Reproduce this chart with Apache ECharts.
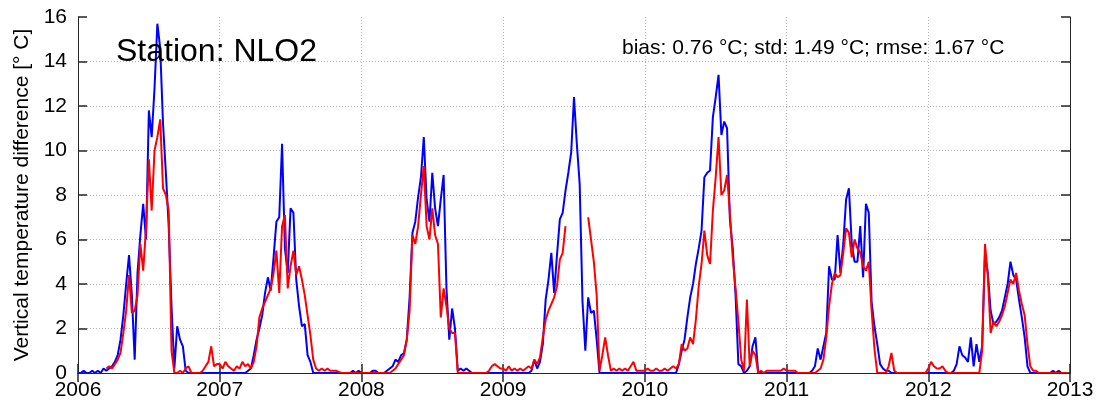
<!DOCTYPE html>
<html><head><meta charset="utf-8">
<script src="https://cdn.jsdelivr.net/npm/echarts@6/dist/echarts.min.js"></script>
<style>html,body{margin:0;padding:0;background:#fff}#c{width:1098px;height:408px}</style>
</head><body><div id="c"></div>
<script>
// ---- data (one value every 0.02 year) ----
const years = [2006, 2007, 2008, 2009, 2010, 2011, 2012];
const stepYears = 0.02;
const xTickLabels = ['2006','2007','2008','2009','2010','2011','2012','2013'];
const yTickLabels = ['0','2','4','6','8','10','12','14','16'];
const stationLabel = 'Station: NLO2';
const statsLabel = 'bias: 0.76 °C; std: 1.49 °C; rmse: 1.67 °C';
const yAxisTitle = 'Vertical temperature difference [° C]';

const blue2006 = [0,0,0.1,0,0,0.1,0,0.1,0,0.2, 0.1,0.2,0.3,0.5,0.8,1.5,2.6,4.0,5.3,3.5, 0.6,4.5,6.2,7.6,6.0,11.8,10.6,12.8,15.7,14.6, 11.2,9.0,6.6,3.0,0.2,2.1,1.5,1.2,0.1,0, 0,0,0,0,0,0,0,0,0,0];
const red2006 = [null,null,null,null,null,null,null,null,null,null, 0.2,0.3,0.2,0.4,0.6,0.9,1.8,2.8,4.4,2.7, 2.8,3.5,5.8,4.6,6.5,9.6,7.3,10.0,10.6,11.4, 8.3,8.0,7.3,1.0,0,0,0.1,0,0.2,0.3, 0,0,0,0,0.1,0.3,0.5,1.2,0.3,0.4];
const blue2007 = [0,0,0,0,0,0,0,0,0,0, 0.1,0.2,0.8,1.5,2.0,2.6,3.6,4.3,3.7,5.2, 6.8,7.0,10.3,5.6,4.5,7.4,7.2,4.2,3.0,2.1, 2.2,0.8,0.5,0,0,0,0,0,0,0, 0,0,0,0,0,0,0,0.1,0,0.1];
const red2007 = [0.4,0.2,0.5,0.3,0.2,0.1,0.3,0.2,0.5,0.3, 0.4,0.2,0.5,1.2,2.5,2.9,3.2,3.5,3.8,4.5, 5.5,3.6,6.6,7.1,3.8,4.8,5.5,4.4,4.8,4.2, 3.5,2.6,1.7,0.6,0.2,0.1,0.2,0.1,0.2,0.1, 0.1,0.1,0.05,0,0,0,0,0,0,0];
const blue2008 = [0,0,0,0,0.1,0.1,0,0,0,0.1, 0.2,0.3,0.6,0.5,0.8,0.9,1.5,3.4,6.3,6.8, 7.9,8.8,10.6,7.8,6.8,9.0,7.4,6.6,7.8,8.9, 3.8,1.5,2.9,2.0,0.1,0.2,0.1,0.2,0.1,0, 0,0,0,0,0,0,0,0,0,0];
const red2008 = [0,0,0,0,0,0,0,0,0,0, 0,0.1,0.2,0.4,0.6,0.8,1.5,2.8,6.2,5.8, 6.6,8.0,9.3,6.6,6.0,7.4,6.2,5.8,2.5,3.8, 3.0,2.0,1.8,1.8,0,0,0,0,0,0, 0,0,0,0,0,0.1,0.3,0.4,0.3,0.2];
const blue2009 = [0,0,0,0,0,0,0,0,0,0, 0.1,0.6,0.2,0.5,1.3,3.3,4.2,5.4,3.6,5.3, 6.9,7.2,8.2,9.0,9.9,12.4,10.3,8.5,3.2,1.0, 3.4,2.7,2.8,1.5,0,0,0,0,0,0, 0,0,0,0,0,0,0,0,0,0];
const red2009 = [0.2,0.1,0.3,0.1,0.2,0.1,0.2,0.1,0.2,0.3, 0.2,0.6,0.4,0.7,1.6,2.4,2.8,3.1,3.4,3.9, 5.1,5.4,6.6,null,null,null,null,null,null,null, 7.0,6.0,5.0,3.5,0.1,0.8,1.6,0.8,0.1,0.2, 0.1,0.2,0.1,0.2,0.1,0.3,0.5,0.1,0.1,0.1];
const blue2010 = [0,0,0,0,0,0,0,0,0,0, 0,0,0.4,1.0,1.5,2.5,3.4,4.0,4.9,5.6, 6.4,8.8,9.0,9.1,11.5,12.4,13.4,10.7,11.3,11.0, 6.9,5.6,3.5,0.4,0.3,0,0.1,0.3,1.2,1.6, 0,0,0,0,0,0,0,0,0,0];
const red2010 = [0.1,0.2,0.1,0.1,0.2,0.1,0.1,0.2,0.1,0.2, 0.3,0.2,0.4,1.3,1.0,1.1,1.6,1.3,2.4,3.9, 4.9,6.4,5.3,4.9,7.3,8.8,10.6,8.0,8.2,8.9, 7.2,5.2,3.8,2.3,0.6,0.1,3.3,0.3,1.0,0.8, 0,0.1,0,0.1,0.1,0.1,0.1,0.1,0.1,0.2];
const blue2011 = [0,0,0,0,0,0,0,0,0,0.1, 0.3,1.1,0.6,1.2,1.8,4.8,4.2,4.2,6.2,4.5, 5.8,7.8,8.3,5.8,5.0,5.0,6.6,4.3,7.6,7.2, 3.2,2.1,1.3,0.4,0.2,0.1,0.1,0,0,0, 0,0,0,0,0,0,0,0,0,0];
const red2011 = [0.1,0.1,0.1,0.1,0,0,0,0,0,0, 0,0.1,0.2,0.6,1.6,3.0,4.0,4.5,4.3,4.4, 5.4,6.5,6.3,5.2,6.0,5.6,5.4,4.8,4.6,5.0, 2.8,1.1,0,0,0,0,0.3,0.9,0.1,0, 0,0,0,0,0,0,0,0,0,0];
const blue2012 = [0,0,0,0,0,0,0,0,0,0.1, 0.4,1.2,0.8,0.7,0.5,1.6,0.3,1.3,0.5,1.2, 5.3,4.5,2.8,2.2,2.3,2.5,2.8,3.4,4.0,5.0, 4.4,4.2,3.3,2.5,1.6,0.3,0,0,0,0, 0,0,0,0,0.1,0,0.1,0,0,0];
const red2012 = [0.2,0.5,0.3,0.2,0.2,0.3,0.1,0,0,0, 0,0,0,0,0,0,0,0,0,1.0, 5.8,4.4,1.8,2.3,2.1,2.3,2.6,3.0,3.6,4.2, 4.0,4.5,3.7,3.1,2.6,1.3,0.3,0.1,0.1,0, 0,0,0,0,0,0,0,0,0,0];

const blueYears = [blue2006, blue2007, blue2008, blue2009, blue2010, blue2011, blue2012];
const redYears = [red2006, red2007, red2008, red2009, red2010, red2011, red2012];

function build(perYear) {
  const out = [];
  perYear.forEach((arr, k) => arr.forEach((v, i) => out.push([years[k] + i * stepYears, v])));
  return out;
}

const FONT = '"Liberation Sans", Arial, sans-serif';
const AX = '#262626';
const gridLine = { show: true, showMinLine: false, showMaxLine: false, lineStyle: { color: '#b4b4b4', type: [1, 2], width: 1 } };

const chart = echarts.init(document.getElementById('c'), null, { renderer: 'canvas' });
chart.setOption({
  animation: false,
  backgroundColor: '#ffffff',
  grid: { left: 78, right: 28, top: 17, bottom: 35, containLabel: false },
  xAxis: [
    { type: 'value', min: 2006, max: 2013, interval: 1, position: 'bottom',
      axisLine: { show: true, lineStyle: { color: AX, width: 1 } },
      axisTick: { show: true, inside: true, length: 9, lineStyle: { color: AX, width: 1.5 } },
      axisLabel: { color: '#000', fontSize: 21, fontFamily: FONT, margin: 7,
        formatter: v => xTickLabels[Math.round(v - 2006)] },
      splitLine: gridLine },
    { type: 'value', min: 2006, max: 2013, interval: 1, position: 'top',
      axisLine: { show: true, lineStyle: { color: AX, width: 1 } },
      axisTick: { show: true, inside: true, length: 9, lineStyle: { color: AX, width: 1.5 } },
      axisLabel: { show: false }, splitLine: { show: false } },
    { type: 'value', min: 2006, max: 2013, position: 'bottom', z: 10,
      axisLine: { show: true, lineStyle: { color: AX, width: 1 } },
      axisTick: { show: false }, axisLabel: { show: false }, splitLine: { show: false } }
  ],
  yAxis: [
    { type: 'value', min: 0, max: 16, interval: 2, position: 'left',
      name: yAxisTitle, nameLocation: 'middle', nameGap: 45,
      nameTextStyle: { color: '#000', fontSize: 21, fontFamily: FONT },
      axisLine: { show: true, lineStyle: { color: AX, width: 1 } },
      axisTick: { show: true, inside: true, length: 9, lineStyle: { color: AX, width: 1.5 } },
      axisLabel: { color: '#000', fontSize: 21, fontFamily: FONT, margin: 11,
        formatter: v => yTickLabels[Math.round(v / 2)] },
      splitLine: gridLine },
    { type: 'value', min: 0, max: 16, interval: 2, position: 'right',
      axisLine: { show: true, lineStyle: { color: AX, width: 1 } },
      axisTick: { show: true, inside: true, length: 9, lineStyle: { color: AX, width: 1.5 } },
      axisLabel: { show: false }, splitLine: { show: false } }
  ],
  series: [
    { type: 'line', name: 'blue', data: build(blueYears), xAxisIndex: 0, yAxisIndex: 0,
      showSymbol: false, symbol: 'none', clip: true, connectNulls: false,
      lineStyle: { color: '#0000ff', width: 2 }, z: 2 },
    { type: 'line', name: 'red', data: build(redYears), xAxisIndex: 0, yAxisIndex: 0,
      showSymbol: false, symbol: 'none', clip: true, connectNulls: false,
      lineStyle: { color: '#ff0000', width: 2 }, z: 3 }
  ],
  graphic: [
    { type: 'text', x: 116, y: 52, z: 20,
      style: { text: stationLabel, font: '32px ' + FONT, fill: '#000', verticalAlign: 'middle', align: 'left' } },
    { type: 'text', x: 622, y: 48, z: 20,
      style: { text: statsLabel, font: '21px ' + FONT, fill: '#000', verticalAlign: 'middle', align: 'left' } }
  ]
});
</script></body></html>
